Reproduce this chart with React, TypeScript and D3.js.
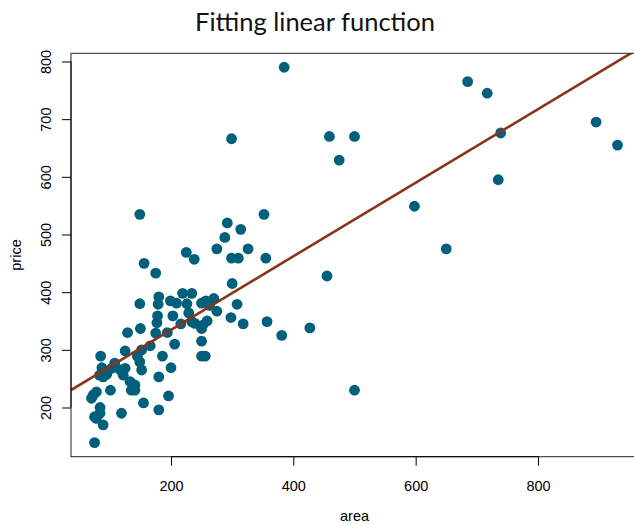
import React, { useRef, useEffect } from 'react'
import * as d3 from 'd3'

// area / price pairs
const areas = [
  385, 685, 717, 459, 500, 475, 739, 895, 930, 735, 598, 650, 455, 427, 381, 500,
  299, 352, 292, 314, 288, 275, 326, 299, 310, 355, 300, 270, 257, 250, 263, 308,
  275, 259, 252, 250, 298, 318, 357, 250, 250, 256, 225, 238, 175, 180, 179, 219,
  234, 199, 209, 226, 229, 178, 177, 203, 216, 234, 239, 175, 194, 166, 206, 186,
  200, 180, 149, 129, 150, 152, 125, 145, 149, 152, 85, 87, 108, 103, 117, 95,
  89, 83, 125, 122, 133, 141, 135, 141, 101, 78, 73, 70, 196, 155, 84, 84,
  119, 180, 75, 78, 89, 75, 156, 149,
]
const prices = [
  790, 765, 745, 670, 670, 629, 676, 695, 655, 595, 549, 475, 428, 338, 325, 230,
  666, 535, 520, 509, 495, 475, 475, 459, 459, 459, 415, 389, 385, 381, 377, 379,
  367, 350, 343, 337, 356, 345, 349, 315, 289, 289, 469, 457, 433, 392, 379, 398,
  398, 385, 381, 380, 364, 359, 347, 359, 345, 349, 346, 329, 330, 307, 310, 289,
  269, 253, 380, 330, 337, 300, 298, 289, 279, 265, 289, 269, 277, 268, 265, 258,
  253, 256, 268, 256, 245, 239, 230, 230, 230, 227, 222, 216, 220, 208, 200, 190,
  190, 196, 184, 181, 170, 139, 450, 535,
]

// fitted line price = intercept + slope * area
const fitIntercept = 207
const fitSlope = 0.638

const xTicks = [200, 400, 600, 800]
const yTicks = [200, 300, 400, 500, 600, 700, 800]

export default function App() {
  const svgRef = useRef<SVGSVGElement>(null)

  useEffect(() => {
    const w = 634
    const h = 524
    const left = 71
    const right = 638
    const top = 53.3
    const bottom = 456.7

    const svg = d3.select(svgRef.current)
    svg.selectAll('*').remove()
    svg.attr('width', w).attr('height', h)

    const xScale = d3.scaleLinear().domain([36.5, 963.5]).range([left, right])
    const yScale = d3.scaleLinear().domain([114.7, 814.2]).range([bottom, top])

    svg.append('defs').append('clipPath').attr('id', 'plotclip')
      .append('rect')
      .attr('x', left).attr('y', top)
      .attr('width', right - left).attr('height', bottom - top)

    // title
    svg.append('text')
      .attr('x', 315).attr('y', 31)
      .attr('text-anchor', 'middle')
      .style('font-family', 'Lato, sans-serif')
      .style('font-weight', '400')
      .style('font-size', '25.5px')
      .attr('fill', '#111')
      .text('Fitting linear function')

    // points
    const pts = areas.map((a, i) => ({ a, p: prices[i] }))
    const g = svg.append('g').attr('clip-path', 'url(#plotclip)')
    g.selectAll('circle')
      .data(pts)
      .join('circle')
        .attr('cx', d => xScale(d.a))
        .attr('cy', d => yScale(d.p))
        .attr('r', 5.4)
        .attr('fill', '#005f7b')

    // regression line
    const xd = xScale.domain()
    const line = d3.line<number>()
      .x(d => xScale(d))
      .y(d => yScale(fitIntercept + fitSlope * d))
    g.append('path')
      .attr('d', line(xd))
      .attr('fill', 'none')
      .attr('stroke', '#8a3418')
      .attr('stroke-width', 2.6)

    // box
    svg.append('rect')
      .attr('x', left).attr('y', top)
      .attr('width', right - left).attr('height', bottom - top)
      .attr('fill', 'none')
      .attr('stroke', '#222')
      .attr('stroke-width', 1)

    // axes
    const xAxis = d3.axisBottom(xScale).tickValues(xTicks).tickSize(9).tickPadding(15).tickSizeOuter(0)
    const xg = svg.append('g').attr('transform', `translate(0, ${bottom})`).call(xAxis)
    xg.select('.domain')
      .attr('d', `M${xScale(xTicks[0])},0H${xScale(xTicks[xTicks.length - 1])}`)
    xg.selectAll('text')
      .style('font-family', '"Liberation Sans", Arial, sans-serif')
      .style('font-size', '14.5px')
      .attr('fill', '#000')

    const yAxis = d3.axisLeft(yScale).tickValues(yTicks).tickSize(9).tickSizeOuter(0)
    const yg = svg.append('g').attr('transform', `translate(${left}, 0)`).call(yAxis)
    yg.select('.domain')
      .attr('d', `M0,${yScale(yTicks[0])}V${yScale(yTicks[yTicks.length - 1])}`)
    yg.selectAll('.tick text')
      .attr('x', 0).attr('dy', null)
      .attr('transform', 'translate(-24, 0) rotate(-90)')
      .attr('text-anchor', 'middle')
      .attr('dominant-baseline', 'middle')
      .style('font-family', '"Liberation Sans", Arial, sans-serif')
      .style('font-size', '14.5px')
      .attr('fill', '#000')

    // axis titles
    svg.append('text')
      .attr('x', (left + right) / 2).attr('y', 521)
      .attr('text-anchor', 'middle')
      .style('font-family', '"Liberation Sans", Arial, sans-serif')
      .style('font-size', '14.5px')
      .text('area')

    svg.append('text')
      .attr('transform', `translate(21, ${(top + bottom) / 2}) rotate(-90)`)
      .attr('text-anchor', 'middle')
      .style('font-family', '"Liberation Sans", Arial, sans-serif')
      .style('font-size', '14.5px')
      .text('price')
  }, [])

  return (
    <div style={{ position: 'absolute', left: 0, top: 0 }}>
      <svg ref={svgRef} style={{ display: 'block', background: '#fff' }}></svg>
    </div>
  )
}
